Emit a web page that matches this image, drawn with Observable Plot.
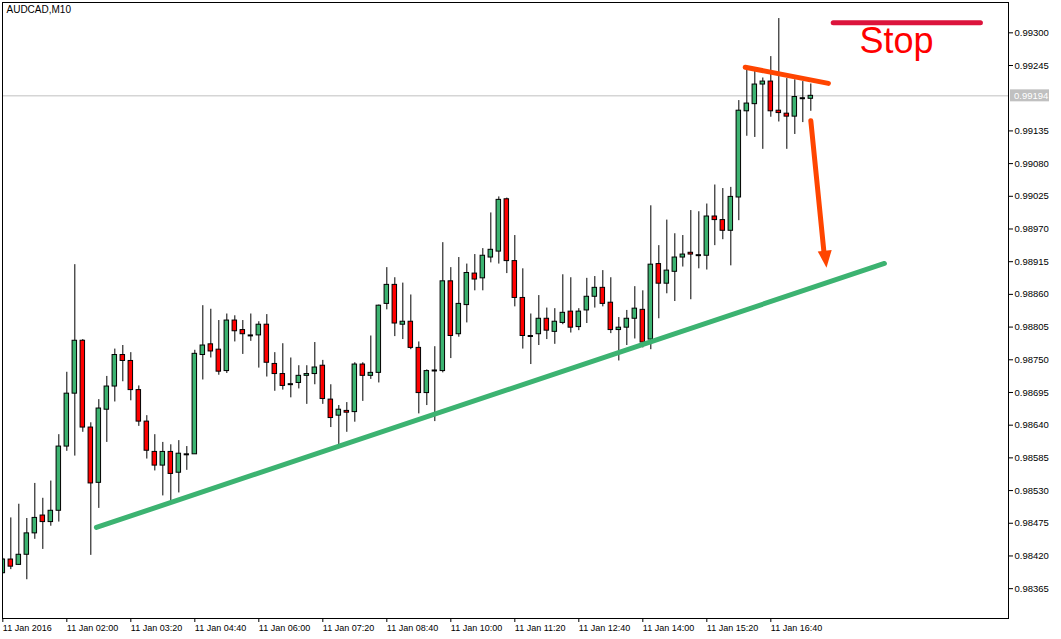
<!DOCTYPE html>
<html><head><meta charset="utf-8">
<script src="https://cdn.jsdelivr.net/npm/d3@7"></script>
<script src="https://cdn.jsdelivr.net/npm/@observablehq/plot@0.6"></script>
<style>body{margin:0;background:#fff} #chart{width:1061px;height:639px}</style>
</head><body><div id="chart"></div>
<script>
// AUDCAD M10 candles, 11 Jan 2016 from 00:40 (bar index 0) to 17:30 (bar index 101)
const opens = [0.98391,0.98414,0.98405,0.98422,0.98458,0.98488,0.98477,0.98496,0.98604,0.98693,
0.98782,0.98636,0.98543,0.98666,0.98705,0.98758,0.98748,0.98699,0.98646,0.98595,
0.98572,0.98595,0.98560,0.98591,0.98591,0.98758,0.98776,0.98767,0.98731,0.98816,
0.98800,0.98791,0.98791,0.98809,0.98743,0.98726,0.98709,0.98711,0.98723,0.98726,
0.98740,0.98683,0.98656,0.98664,0.98662,0.98742,0.98723,0.98728,0.98844,0.98876,
0.98809,0.98814,0.98770,0.98694,0.98732,0.98731,0.98882,0.98793,0.98842,0.98895,
0.98887,0.98922,0.98932,0.99020,0.98916,0.98854,0.98790,0.98793,0.98819,0.98797,
0.98812,0.98831,0.98805,0.98833,0.98856,0.98871,0.98846,0.98800,0.98804,0.98819,
0.98834,0.98784,0.98911,0.98878,0.98898,0.98922,0.98930,0.98926,0.98925,0.98991,
0.98985,0.98967,0.99023,0.99168,0.99180,0.99213,0.99218,0.99169,0.99164,0.99159,
0.99190,0.99189];
const highs = [0.98416,0.98484,0.98507,0.98483,0.98542,0.98517,0.98546,0.98624,0.98729,0.98910,
0.98784,0.98644,0.98683,0.98722,0.98768,0.98774,0.98762,0.98706,0.98656,0.98624,
0.98611,0.98607,0.98614,0.98604,0.98766,0.98841,0.98835,0.98816,0.98827,0.98824,
0.98816,0.98827,0.98814,0.98826,0.98762,0.98777,0.98753,0.98740,0.98740,0.98779,
0.98749,0.98708,0.98673,0.98678,0.98745,0.98745,0.98790,0.98842,0.98905,0.98888,
0.98879,0.98859,0.98780,0.98733,0.98772,0.98947,0.98905,0.98922,0.98911,0.98927,
0.98937,0.98997,0.99024,0.99022,0.98959,0.98903,0.98827,0.98858,0.98837,0.98836,
0.98893,0.98888,0.98836,0.98887,0.98890,0.98900,0.98888,0.98821,0.98833,0.98873,
0.98866,0.99009,0.98942,0.98985,0.98962,0.98959,0.99001,0.98999,0.99012,0.99044,
0.99038,0.99040,0.99186,0.99237,0.99237,0.99224,0.99260,0.99324,0.99223,0.99221,
0.99218,0.99214];
const lows = [0.98390,0.98397,0.98404,0.98380,0.98448,0.98431,0.98470,0.98477,0.98596,0.98588,
0.98628,0.98421,0.98500,0.98611,0.98679,0.98713,0.98681,0.98638,0.98583,0.98563,
0.98521,0.98512,0.98526,0.98564,0.98591,0.98716,0.98753,0.98724,0.98727,0.98780,
0.98759,0.98781,0.98736,0.98721,0.98697,0.98699,0.98686,0.98701,0.98675,0.98708,
0.98675,0.98636,0.98607,0.98628,0.98645,0.98680,0.98717,0.98711,0.98834,0.98789,
0.98784,0.98767,0.98659,0.98673,0.98646,0.98728,0.98752,0.98788,0.98812,0.98866,
0.98866,0.98913,0.98911,0.98895,0.98839,0.98768,0.98742,0.98774,0.98784,0.98776,
0.98809,0.98795,0.98799,0.98811,0.98837,0.98839,0.98794,0.98748,0.98774,0.98785,
0.98770,0.98767,0.98819,0.98861,0.98848,0.98906,0.98851,0.98903,0.98901,0.98942,
0.98952,0.98908,0.98984,0.99126,0.99124,0.99104,0.99158,0.99150,0.99104,0.99129,
0.99149,0.99168];
const closes = [0.98414,0.98402,0.98422,0.98458,0.98484,0.98477,0.98496,0.98604,0.98693,0.98782,
0.98636,0.98542,0.98668,0.98705,0.98758,0.98748,0.98699,0.98646,0.98597,0.98572,
0.98595,0.98558,0.98592,0.98591,0.98760,0.98774,0.98764,0.98730,0.98816,0.98798,
0.98793,0.98791,0.98809,0.98745,0.98726,0.98706,0.98709,0.98723,0.98726,0.98737,
0.98684,0.98652,0.98666,0.98661,0.98742,0.98723,0.98728,0.98841,0.98876,0.98811,
0.98814,0.98770,0.98694,0.98731,0.98732,0.98882,0.98790,0.98844,0.98896,0.98885,
0.98925,0.98935,0.99019,0.98916,0.98854,0.98790,0.98790,0.98819,0.98799,0.98814,
0.98829,0.98804,0.98831,0.98856,0.98871,0.98844,0.98800,0.98804,0.98819,0.98836,
0.98779,0.98910,0.98878,0.98900,0.98922,0.98927,0.98927,0.98926,0.98991,0.98985,
0.98967,0.99024,0.99169,0.99181,0.99213,0.99218,0.99168,0.99165,0.99159,0.99192,
0.99190,0.99194];

const xTickBars = [0, 8, 16, 24, 32, 40, 48, 56, 64, 72, 80, 88, 96];
const xTickLabels = ["11 Jan 2016","11 Jan 02:00","11 Jan 03:20","11 Jan 04:40","11 Jan 06:00",
  "11 Jan 07:20","11 Jan 08:40","11 Jan 10:00","11 Jan 11:20","11 Jan 12:40","11 Jan 14:00",
  "11 Jan 15:20","11 Jan 16:40"];
const yTickValues = [0.98365,0.98420,0.98475,0.98530,0.98585,0.98640,0.98695,0.98750,0.98805,
  0.98860,0.98915,0.98970,0.99025,0.99080,0.99135,0.99245,0.99300];
const lastPrice = 0.99194;
const chartTitle = "AUDCAD,M10";

// hand-drawn annotations: [bar index, price]
const supportLine = [[11.7, 0.98468], [110.2, 0.98912]];
const resistanceLine = [[92.8, 0.99242], [103.2, 0.99215]];
const arrowShaft = [[101.0, 0.99152], [102.65, 0.98930]];
const arrowTip = [[102.96, 0.98905]];
const stopLine = [[103.8, 0.99317], [122.2, 0.99317]];
const stopLabel = [{x: 111.7, y: 0.99285, text: "Stop"}];

const candles = opens.map((o, i) => ({i, open: o, high: highs[i], low: lows[i], close: closes[i]}));
const bodies = candles.filter(d => d.open !== d.close);
const dojis = candles.filter(d => d.open === d.close);

const arrowHead = {draw(ctx) { ctx.moveTo(0, 0); ctx.lineTo(-7, -17); ctx.lineTo(7, -17); ctx.closePath(); }};

const plot = Plot.plot({
  width: 1061, height: 639,
  marginLeft: 2, marginRight: 53, marginTop: 2, marginBottom: 21,
  style: {fontFamily: "Liberation Sans", background: "white", color: "black"},
  x: {type: "linear", domain: [-0.04, 125.71]},
  y: {type: "linear", domain: [0.983148, 0.99351]},
  color: {type: "identity"},
  marks: [
    Plot.ruleY([lastPrice], {y: d => d, stroke: "#c0c0c0", strokeWidth: 1}),
    Plot.ruleX(candles, {x: "i", y1: "low", y2: "high", stroke: "black", strokeWidth: 1, clip: true}),
    Plot.rect(bodies, {x1: d => d.i - 0.28, x2: d => d.i + 0.28, y1: "open", y2: "close",
      fill: d => d.close > d.open ? "#3cb371" : "#ff0000", stroke: "black", strokeWidth: 1, clip: true}),
    Plot.ruleY(dojis, {x1: d => d.i - 0.33, x2: d => d.i + 0.33, y: "close", stroke: "black", strokeWidth: 2}),
    Plot.line(supportLine, {x: d => d[0], y: d => d[1], stroke: "#3cb371", strokeWidth: 5}),
    Plot.line(resistanceLine, {x: d => d[0], y: d => d[1], stroke: "#ff4500", strokeWidth: 5, strokeLinecap: "round"}),
    Plot.line(arrowShaft, {x: d => d[0], y: d => d[1], stroke: "#ff4500", strokeWidth: 5}),
    Plot.dot(arrowTip, {x: d => d[0], y: d => d[1], symbol: arrowHead, fill: "#ff4500", stroke: "none", rotate: -6}),
    Plot.line(stopLine, {x: d => d[0], y: d => d[1], stroke: "#dc143c", strokeWidth: 5, strokeLinecap: "round"}),
    Plot.text(stopLabel, {x: "x", y: "y", text: "text", fill: "#ff0000", fontSize: 36, fontFamily: "Liberation Sans"}),
    Plot.text([chartTitle], {frameAnchor: "top-left", text: d => d, dx: 4, dy: 3, fontSize: 10,
      textAnchor: "start", lineAnchor: "top", fill: "black"}),
    Plot.frame({stroke: "black"}),
    Plot.axisY(yTickValues, {anchor: "right", tickSize: 4, tickPadding: 2, fontSize: 9.5,
      tickFormat: d => d.toFixed(5), label: null}),
    Plot.axisX(xTickBars, {anchor: "bottom", tickSize: 4, tickPadding: 2, fontSize: 9,
      textAnchor: "start", dx: 0, tickFormat: d => xTickLabels[xTickBars.indexOf(d)], label: null})
  ]
});

// current price tag on the right axis
const py = plot.scale("y").apply(lastPrice);
const sx = plot.scale("x").range[1];
const svg = d3.select(plot);
svg.append("rect").attr("x", sx + 2).attr("y", py - 6).attr("width", 39).attr("height", 12).attr("fill", "#c0c0c0");
svg.append("text").attr("x", sx + 6).attr("y", py + 3.5).attr("fill", "white").attr("text-anchor", "start")
  .attr("font-size", 9.5).attr("font-family", "Liberation Sans").text(lastPrice.toFixed(5));

document.getElementById("chart").appendChild(plot);
</script>
</body></html>
